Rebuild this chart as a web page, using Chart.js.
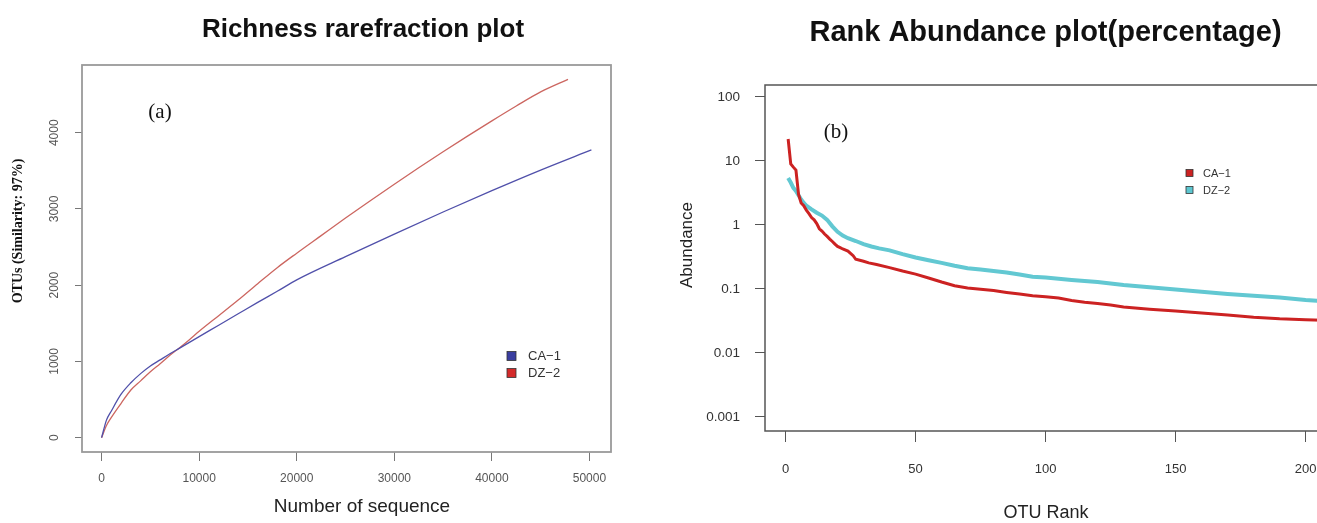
<!DOCTYPE html>
<html>
<head>
<meta charset="utf-8">
<script src="https://cdn.jsdelivr.net/npm/chart.js@4.4.1/dist/chart.umd.min.js"></script>
<style>
  html, body { margin: 0; padding: 0; background: #fff; overflow: hidden; width: 1317px; height: 523px; }
  #wrap { position: relative; width: 1317px; height: 523px; overflow: hidden; }
  .panel { position: absolute; top: 0; height: 523px; }
</style>
</head>
<body>
<div id="wrap">
  <div class="panel" style="left:0;width:640px"><canvas id="rare"></canvas></div>
  <div class="panel" style="left:640px;width:760px"><canvas id="rank"></canvas></div>
</div>
<script>
// ---- Richness rarefaction data (sequences sampled vs. OTUs observed) ----
const caSeq  = [0, 500, 1000, 2000, 3000, 4000, 5000, 6000, 7000, 8000, 9000, 10000, 12000, 14000, 16000, 18000, 20000, 25000, 30000, 35000, 40000, 45000, 50200];
const caOtus = [0, 230, 350, 570, 720, 840, 940, 1020, 1100, 1175, 1250, 1325, 1475, 1625, 1775, 1920, 2070, 2375, 2670, 2960, 3240, 3510, 3775];
const dzSeq  = [0, 500, 1000, 2000, 3000, 4000, 5000, 6000, 7000, 8000, 9000, 10000, 12000, 14000, 16000, 18000, 20000, 22500, 25000, 27500, 30000, 32500, 35000, 37500, 40000, 42500, 45000, 47800];
const dzOtus = [0, 160, 265, 450, 625, 745, 865, 970, 1080, 1180, 1285, 1395, 1600, 1805, 2020, 2230, 2420, 2650, 2880, 3105, 3325, 3540, 3750, 3955, 4155, 4350, 4535, 4700];
const seqTicks = [0, 10000, 20000, 30000, 40000, 50000];
const otuTicks = [0, 1000, 2000, 3000, 4000];
const sampleNames = ['CA\u22121', 'DZ\u22122'];

// ---- Rank abundance data (percentage per OTU rank) ----
const caRank  = [1, 2, 3, 4, 5, 6, 7, 8, 9, 10, 11, 12, 13, 14, 15, 16, 17, 18, 19, 20, 21, 22, 24, 26, 27, 30, 32, 35, 40, 45, 50, 55, 60, 65, 70, 75, 80, 85, 90, 95, 100, 105, 110, 115, 120, 125, 130, 140, 150, 160, 170, 180, 190, 200, 210, 223];
const caAbund = [22, 9, 8, 7.2, 3.0, 2.2, 2.0, 1.7, 1.5, 1.3, 1.2, 1.05, 0.87, 0.8, 0.72, 0.66, 0.6, 0.55, 0.5, 0.46, 0.44, 0.42, 0.39, 0.33, 0.29, 0.27, 0.255, 0.24, 0.215, 0.19, 0.17, 0.148, 0.128, 0.112, 0.103, 0.099, 0.094, 0.088, 0.083, 0.078, 0.075, 0.072, 0.066, 0.062, 0.059, 0.056, 0.052, 0.048, 0.045, 0.042, 0.039, 0.036, 0.034, 0.033, 0.032, 0.031];
const dzRank  = [1, 2, 3, 4, 5, 6, 7, 8, 10, 12, 14, 16, 18, 20, 22, 24, 27, 30, 33, 36, 40, 45, 50, 55, 60, 65, 70, 75, 80, 85, 90, 95, 100, 110, 120, 130, 140, 150, 160, 170, 180, 190, 200, 210, 223];
const dzAbund = [5.4, 4.6, 3.8, 3.4, 2.9, 2.5, 2.2, 2.0, 1.75, 1.55, 1.4, 1.2, 0.95, 0.78, 0.68, 0.62, 0.56, 0.5, 0.46, 0.43, 0.4, 0.35, 0.31, 0.28, 0.255, 0.23, 0.21, 0.2, 0.19, 0.18, 0.168, 0.155, 0.15, 0.138, 0.128, 0.115, 0.106, 0.098, 0.09, 0.083, 0.078, 0.073, 0.067, 0.063, 0.06];
const rankTicks  = [0, 50, 100, 150, 200];
const abundTicks = [0.001, 0.01, 0.1, 1, 10, 100];

const SANS = '"Liberation Sans", Arial, Helvetica, sans-serif';
const SERIF = '"Liberation Serif", "Times New Roman", serif';

const pairs = (xs, ys) => xs.map((x, i) => ({ x, y: ys[i] }));
const fixedTicks = values => scale => { scale.ticks = values.map(v => ({ value: v })); };

// Frame, free text and legend drawn on top of each panel
const panelDecor = {
  id: 'panelDecor',
  afterDraw(chart, args, o) {
    const { ctx, chartArea: a } = chart;
    ctx.save();
    ctx.strokeStyle = o.boxColor;
    ctx.lineWidth = o.boxWidth;
    ctx.strokeRect(a.left, a.top, a.right - a.left, a.bottom - a.top);
    for (const t of o.texts) {
      ctx.save();
      ctx.font = t.font;
      ctx.fillStyle = t.color || '#111';
      ctx.textAlign = 'center';
      ctx.textBaseline = 'middle';
      ctx.translate(t.x, t.y);
      if (t.rot) ctx.rotate(t.rot);
      ctx.fillText(t.text, 0, 0);
      ctx.restore();
    }
    const lg = o.legend;
    ctx.font = lg.font;
    ctx.textAlign = 'left';
    ctx.textBaseline = 'middle';
    chart.data.datasets.forEach((ds, i) => {
      const cy = lg.y + i * lg.gap;
      ctx.fillStyle = ds.legendFill;
      ctx.fillRect(lg.x, cy - lg.size / 2, lg.size, lg.size);
      ctx.strokeStyle = '#333';
      ctx.lineWidth = 0.8;
      ctx.strokeRect(lg.x, cy - lg.size / 2, lg.size, lg.size);
      ctx.fillStyle = '#333';
      ctx.fillText(ds.label, lg.x + lg.textGap, cy + 0.5);
    });
    ctx.restore();
  }
};

Chart.defaults.font.family = SANS;

new Chart(document.getElementById('rare'), {
  type: 'line',
  data: {
    datasets: [
      { label: sampleNames[0], data: pairs(caSeq, caOtus), borderColor: '#5050aa', legendFill: '#3a3ea0',
        borderWidth: 1.3, pointRadius: 0, cubicInterpolationMode: 'monotone' },
      { label: sampleNames[1], data: pairs(dzSeq, dzOtus), borderColor: '#cc6660', legendFill: '#d42a2a',
        borderWidth: 1.3, pointRadius: 0, cubicInterpolationMode: 'monotone' }
    ]
  },
  options: {
    responsive: true, maintainAspectRatio: false, animation: false,
    layout: { padding: { left: 0, right: 29, top: 65, bottom: 0 } },
    plugins: {
      legend: { display: false }, tooltip: { enabled: false },
      panelDecor: {
        boxColor: '#9a9a9a', boxWidth: 1.8,
        texts: [
          { text: 'Richness rarefraction plot', x: 363, y: 30, font: 'bold 26px ' + SANS },
          { text: 'Number of sequence', x: 362, y: 507, font: '19px ' + SANS, color: '#222' },
          { text: 'OTUs (Similarity: 97%)', x: 18, y: 231, rot: -Math.PI / 2, font: 'bold 14px ' + SERIF },
          { text: '(a)', x: 160, y: 112, font: '21px ' + SERIF }
        ],
        legend: { x: 507, y: 356, gap: 17, size: 9, textGap: 21, font: '13px ' + SANS }
      }
    },
    scales: {
      x: {
        type: 'linear', min: -2008, max: 52208,
        afterFit: s => { s.height = 71; },
        afterBuildTicks: fixedTicks(seqTicks),
        border: { display: false },
        grid: { drawOnChartArea: false, drawTicks: true, tickLength: 9, color: '#777' },
        ticks: { padding: 10, color: '#555', font: { size: 12 }, maxRotation: 0, callback: v => String(v) }
      },
      y: {
        type: 'linear', min: -188, max: 4888,
        afterFit: s => { s.width = 82; },
        afterBuildTicks: fixedTicks(otuTicks),
        border: { display: false },
        grid: { drawOnChartArea: false, drawTicks: true, tickLength: 7, color: '#777' },
        ticks: { padding: 7, color: '#555', font: { size: 12 },
                 minRotation: 90, maxRotation: 90, crossAlign: 'center', callback: v => String(v) }
      }
    }
  },
  plugins: [panelDecor]
});

new Chart(document.getElementById('rank'), {
  type: 'line',
  data: {
    datasets: [
      { label: sampleNames[0], data: pairs(caRank, caAbund), borderColor: '#cc2222', legendFill: '#cc2222',
        borderWidth: 3, pointRadius: 0, tension: 0 },
      { label: sampleNames[1], data: pairs(dzRank, dzAbund), borderColor: '#62c8d2', legendFill: '#5cc6d0',
        borderWidth: 4, pointRadius: 0, tension: 0 }
    ]
  },
  options: {
    responsive: true, maintainAspectRatio: false, animation: false,
    layout: { padding: { left: 0, right: 11.4, top: 85, bottom: 0 } },
    plugins: {
      legend: { display: false }, tooltip: { enabled: false },
      panelDecor: {
        boxColor: '#555', boxWidth: 1.5,
        texts: [
          { text: 'Rank Abundance plot(percentage)', x: 405.5, y: 33, font: 'bold 29px ' + SANS },
          { text: 'OTU Rank', x: 406, y: 513, font: '18px ' + SANS, color: '#222' },
          { text: 'Abundance', x: 47, y: 245, rot: -Math.PI / 2, font: '17px ' + SANS, color: '#222' },
          { text: '(b)', x: 196, y: 132, font: '21px ' + SERIF }
        ],
        legend: { x: 546, y: 173, gap: 17, size: 7, textGap: 17, font: '11px ' + SANS }
      }
    },
    scales: {
      x: {
        type: 'linear', min: -7.9, max: 231.9,
        afterFit: s => { s.height = 92; },
        afterBuildTicks: fixedTicks(rankTicks),
        border: { display: false },
        grid: { drawOnChartArea: false, drawTicks: true, tickLength: 11, color: '#555' },
        ticks: { padding: 20, color: '#333', font: { size: 13 }, maxRotation: 0, callback: v => String(v) }
      },
      y: {
        type: 'logarithmic', min: 0.000627, max: 153.8,
        afterFit: s => { s.width = 125; },
        afterBuildTicks: fixedTicks(abundTicks),
        border: { display: false },
        grid: { drawOnChartArea: false, drawTicks: true, tickLength: 10, color: '#555' },
        ticks: { padding: 15, color: '#333', font: { size: 13.5 }, callback: v => String(v) }
      }
    }
  },
  plugins: [panelDecor]
});
</script>
</body>
</html>
